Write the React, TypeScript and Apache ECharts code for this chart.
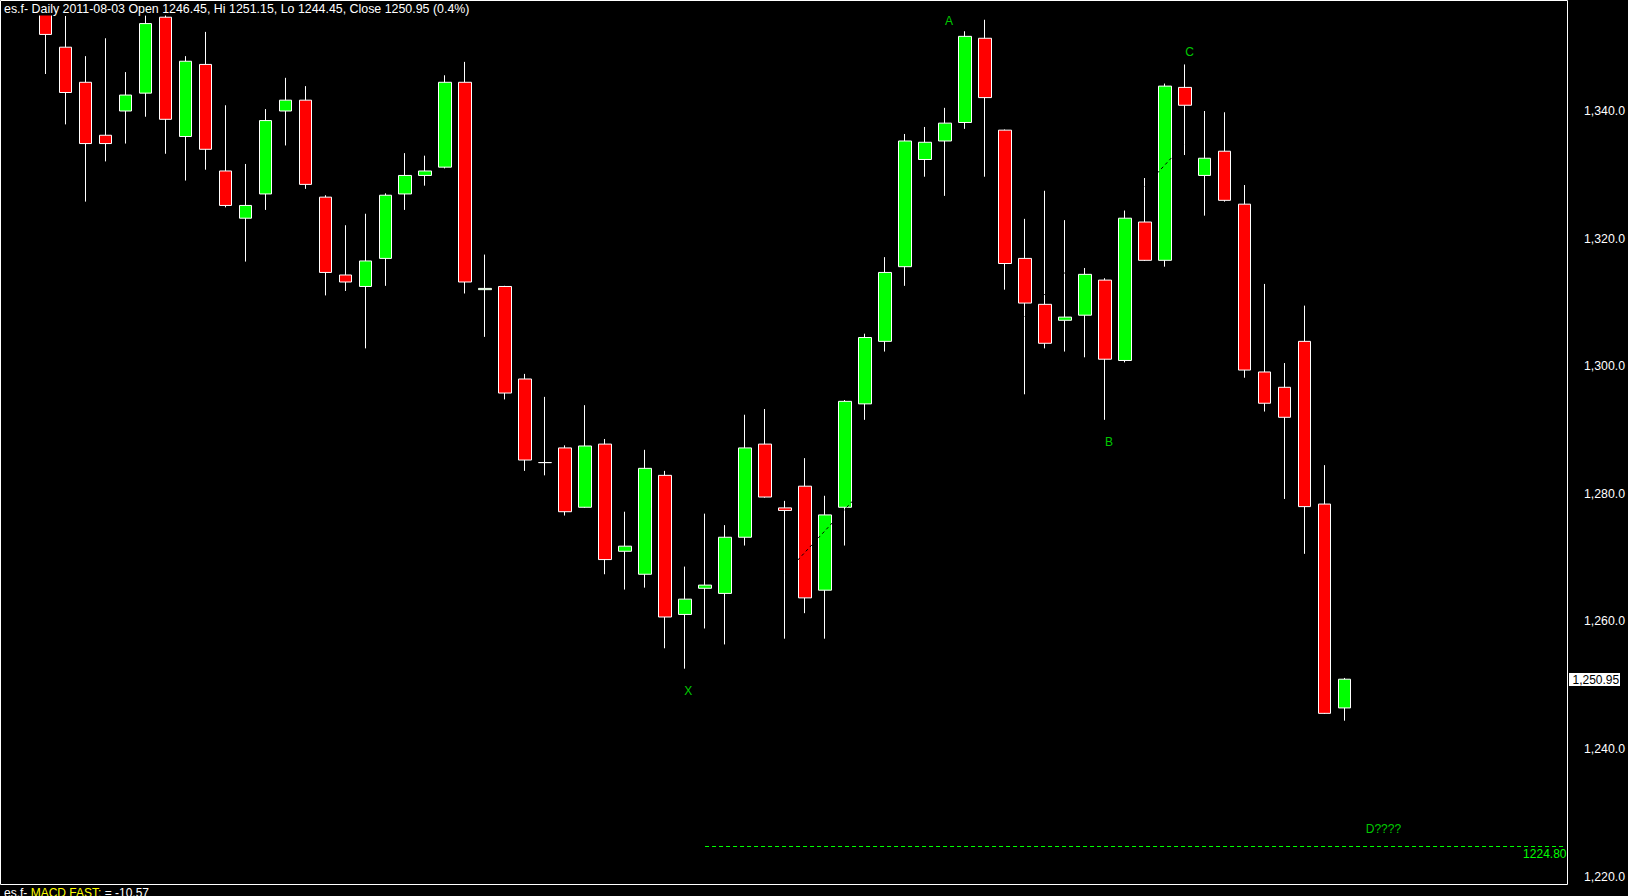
import React, { useEffect, useRef } from 'react';
import * as echarts from 'echarts';

// ---------- data ----------
const dates = [
  '2011-05-02','2011-05-03','2011-05-04','2011-05-05','2011-05-06','2011-05-09','2011-05-10','2011-05-11','2011-05-12','2011-05-13',
  '2011-05-16','2011-05-17','2011-05-18','2011-05-19','2011-05-20','2011-05-23','2011-05-24','2011-05-25','2011-05-26','2011-05-27',
  '2011-05-31','2011-06-01','2011-06-02','2011-06-03','2011-06-06','2011-06-07','2011-06-08','2011-06-09','2011-06-10','2011-06-13',
  '2011-06-14','2011-06-15','2011-06-16','2011-06-17','2011-06-20','2011-06-21','2011-06-22','2011-06-23','2011-06-24','2011-06-27',
  '2011-06-28','2011-06-29','2011-06-30','2011-07-01','2011-07-05','2011-07-06','2011-07-07','2011-07-08','2011-07-11','2011-07-12',
  '2011-07-13','2011-07-14','2011-07-15','2011-07-18','2011-07-19','2011-07-20','2011-07-21','2011-07-22','2011-07-25','2011-07-26',
  '2011-07-27','2011-07-28','2011-07-29','2011-08-01','2011-08-02','2011-08-03',
];
const opens = [
  1356.1, 1350.0, 1344.5, 1336.2, 1340.0, 1342.8, 1354.7, 1336.0, 1347.3, 1330.6,
  1323.2, 1327.0, 1340.0, 1341.7, 1326.5, 1314.3, 1312.5, 1316.9, 1327.0, 1329.9,
  1331.2, 1344.5, 1312.0, 1312.5, 1298.0, 1284.9, 1287.2, 1277.9, 1287.8, 1271.0,
  1267.4, 1282.9, 1261.1, 1265.2, 1264.4, 1273.2, 1287.8, 1277.8, 1281.2, 1264.9,
  1277.9, 1294.1, 1303.9, 1315.6, 1332.4, 1335.3, 1338.2, 1351.4, 1337.0, 1316.9,
  1309.7, 1307.2, 1308.0, 1313.5, 1300.9, 1322.6, 1316.6, 1343.7, 1329.9, 1333.7,
  1325.4, 1299.1, 1296.7, 1303.9, 1278.4, 1246.45,
];
const closes = [
  1352.0, 1342.9, 1334.9, 1334.9, 1342.5, 1353.7, 1338.7, 1347.8, 1334.0, 1325.2,
  1325.2, 1338.5, 1341.7, 1328.5, 1314.7, 1313.2, 1316.5, 1326.8, 1329.9, 1330.6,
  1344.5, 1313.2, 1312.2, 1295.8, 1285.3, 1284.9, 1277.2, 1287.5, 1269.7, 1271.8,
  1284.0, 1260.7, 1263.5, 1265.7, 1273.2, 1287.2, 1279.5, 1277.4, 1263.7, 1276.7,
  1294.5, 1304.5, 1314.7, 1335.3, 1335.1, 1338.1, 1351.7, 1342.1, 1316.1, 1309.9,
  1303.6, 1307.7, 1314.4, 1301.1, 1323.2, 1316.6, 1343.9, 1340.9, 1332.6, 1326.0,
  1299.4, 1294.2, 1292.0, 1278.0, 1245.6, 1250.95,
];
const lows = [
  1345.8, 1337.9, 1325.8, 1332.1, 1334.9, 1339.1, 1333.3, 1329.1, 1330.8, 1324.9,
  1316.4, 1324.5, 1334.6, 1327.8, 1311.1, 1311.8, 1302.8, 1312.6, 1324.5, 1328.3,
  1331.0, 1311.4, 1304.6, 1294.8, 1283.6, 1282.9, 1276.6, 1277.8, 1267.4, 1265.0,
  1265.3, 1255.8, 1252.6, 1258.9, 1256.4, 1271.9, 1279.4, 1257.3, 1261.3, 1257.3,
  1271.9, 1291.6, 1302.3, 1312.6, 1329.7, 1326.7, 1337.2, 1329.7, 1312.0, 1295.6,
  1302.8, 1302.3, 1301.4, 1291.6, 1300.6, 1316.5, 1315.6, 1333.1, 1323.6, 1325.8,
  1298.2, 1292.9, 1279.2, 1270.6, 1245.5, 1244.45,
];
const highs = [
  1357.0, 1354.9, 1348.6, 1351.4, 1346.1, 1355.0, 1355.3, 1348.6, 1352.4, 1340.9,
  1331.7, 1340.3, 1345.2, 1343.9, 1326.8, 1322.1, 1323.9, 1327.1, 1333.4, 1333.0,
  1345.6, 1347.7, 1317.5, 1312.6, 1298.8, 1295.2, 1287.6, 1293.9, 1288.6, 1277.2,
  1286.9, 1283.6, 1268.6, 1276.9, 1275.1, 1292.4, 1293.3, 1278.9, 1285.6, 1279.7,
  1294.7, 1305.1, 1317.1, 1336.4, 1337.5, 1340.5, 1352.5, 1354.3, 1337.1, 1323.1,
  1327.5, 1322.9, 1315.4, 1313.8, 1324.4, 1329.5, 1344.3, 1347.3, 1340.0, 1339.8,
  1328.4, 1312.9, 1300.5, 1309.5, 1284.5, 1251.15,
];

// wave labels: candle index and price level
const waveNames = ['A', 'B', 'C', 'X', 'D????'];
const waveIndex = [45, 53, 57, 32, 67];
const waveLevel = [1354.1, 1288.1, 1349.2, 1249.1, 1227.5];

const targetLevel = 1224.8;
const targetStartIndex = 33;
// hand-drawn trend line (candle index, price)
const trendIndex = [36.2, 56.5];
const trendLevel = [1264.1, 1334.9];

const macdFast = -10.57;

const Y_MIN = 1220;
const Y_MAX = 1357.24;
const Y_INTERVAL = 20;
const PAD_BEFORE = 1;
const PAD_AFTER = 11;

// ---------- styles ----------
const FONT = '"Liberation Sans", Arial, sans-serif';
const GREEN = '#00ff00';
const RED = '#ff0000';
const waveDx = [4.2, 4.2, 4.8, 3.2, -1.2];

const fmtAxis = (v: number) =>
  v.toLocaleString('en-US', { minimumFractionDigits: 1, maximumFractionDigits: 1 });
const fmtPrice = (v: number) =>
  v.toLocaleString('en-US', { minimumFractionDigits: 2, maximumFractionDigits: 2 });

export default function App() {
  const ref = useRef<HTMLDivElement>(null);

  useEffect(() => {
    if (!ref.current) return;
    const chart = echarts.init(ref.current, undefined, { renderer: 'svg' });

    const cats = [
      ...Array.from({ length: PAD_BEFORE }, (_, i) => `pre${i}`),
      ...dates,
      ...Array.from({ length: PAD_AFTER }, (_, i) => `post${i}`),
    ];
    const candleData: any[] = [
      ...Array.from({ length: PAD_BEFORE }, () => '-'),
      ...dates.map((_, i) => [opens[i], closes[i], lows[i], highs[i]]),
      ...Array.from({ length: PAD_AFTER }, () => '-'),
    ];

    const last = dates.length - 1;
    const pct = ((closes[last] - closes[last - 1]) / closes[last - 1]) * 100;
    const titleText = `es.f- Daily ${dates[last]} Open ${opens[last].toFixed(2)}, Hi ${highs[last].toFixed(2)}, Lo ${lows[last].toFixed(2)}, Close ${closes[last].toFixed(2)} (${pct.toFixed(1)}%)`;

    const gridLeft = 15.5;
    const gridWidth = 20 * cats.length;
    const gridRight = gridLeft + gridWidth;

    chart.setOption({
      animation: false,
      backgroundColor: '#000',
      grid: { left: gridLeft, top: 1, width: gridWidth, height: 875.7 },
      xAxis: {
        type: 'category',
        data: cats,
        boundaryGap: true,
        axisLine: { show: false },
        axisTick: { show: false },
        axisLabel: { show: false },
        splitLine: { show: false },
      },
      yAxis: {
        type: 'value',
        position: 'right',
        min: Y_MIN,
        max: Y_MAX,
        interval: Y_INTERVAL,
        axisLine: { show: false },
        axisTick: { show: false },
        splitLine: { show: false },
        axisLabel: {
          color: '#ffffff',
          fontSize: 12.3,
          fontFamily: FONT,
          align: 'right',
          margin: 1626 - gridRight,
          showMaxLabel: false,
          formatter: fmtAxis,
        },
      },
      series: [
        {
          type: 'candlestick',
          data: candleData,
          barWidth: 13,
          clip: false,
          itemStyle: {
            color: GREEN,
            color0: RED,
            borderColor: '#ffffff',
            borderColor0: '#ffffff',
            borderColorDoji: '#ffffff',
            borderWidth: 1,
          },
          markLine: {
            silent: true,
            symbol: ['none', 'none'],
            animation: false,
            data: [
              [
                {
                  coord: [targetStartIndex + PAD_BEFORE, targetLevel],
                  lineStyle: { color: GREEN, type: [4, 3], width: 1 },
                  label: {
                    show: true,
                    position: 'insideEndBottom',
                    formatter: targetLevel.toFixed(2),
                    color: GREEN,
                    fontSize: 12,
                    fontFamily: FONT,
                    distance: 2,
                    offset: [4, 0],
                  },
                },
                { coord: [cats.length - 1, targetLevel] },
              ],
              [
                {
                  coord: [trendIndex[0] + PAD_BEFORE, trendLevel[0]],
                  lineStyle: { color: '#000000', type: [3, 3], width: 1 },
                  label: { show: false },
                },
                { coord: [trendIndex[1] + PAD_BEFORE, trendLevel[1]] },
              ],
            ],
          },
        },
        {
          type: 'scatter',
          silent: true,
          symbolSize: 1,
          itemStyle: { color: 'rgba(0,0,0,0)' },
          label: {
            show: true,
            position: 'inside',
            color: GREEN,
            fontSize: 12,
            fontFamily: FONT,
          },
          data: waveNames.map((n, i) => ({
            value: [waveIndex[i] + PAD_BEFORE, waveLevel[i]],
            label: { formatter: n, offset: [waveDx[i], 0] },
          })),
        },
      ],
    });

    const yPx = chart.convertToPixel({ yAxisIndex: 0 }, closes[last]) as number;

    chart.setOption({
      graphic: [
        {
          type: 'rect',
          z: 99,
          shape: { x: 1, y: 1, width: 470, height: 14.5 },
          style: { fill: '#000' },
        },
        {
          type: 'rect',
          z: 100,
          shape: { x: 0.5, y: 0.5, width: 1567, height: 884 },
          style: { fill: 'none', stroke: '#ffffff', lineWidth: 1 },
        },
        {
          type: 'text',
          z: 101,
          x: 4,
          y: 9,
          style: {
            text: titleText,
            fill: '#ffffff',
            fontSize: 12.4,
            fontFamily: FONT,
            align: 'left',
            verticalAlign: 'middle',
          },
        },
        {
          type: 'rect',
          z: 100,
          shape: { x: 1569, y: Math.round(yPx) - 6, width: 51, height: 13 },
          style: { fill: '#ffffff' },
        },
        {
          type: 'text',
          z: 101,
          x: 1572.5,
          y: yPx + 0.5,
          style: {
            text: fmtPrice(closes[last]),
            fill: '#000000',
            fontSize: 12,
            fontFamily: FONT,
            align: 'left',
            verticalAlign: 'middle',
          },
        },
        {
          type: 'text',
          z: 101,
          x: 4,
          y: 893,
          style: {
            text: `{w|es.f- }{y|MACD FAST:}{w| = ${macdFast.toFixed(2)}}`,
            fontSize: 12,
            fontFamily: FONT,
            align: 'left',
            verticalAlign: 'middle',
            rich: {
              w: { fill: '#ffffff', fontSize: 12, fontFamily: FONT },
              y: { fill: '#ffff00', fontSize: 12, fontFamily: FONT },
            },
          },
        },
      ],
    });

    return () => chart.dispose();
  }, []);

  return (
    <div
      ref={ref}
      style={{ position: 'fixed', left: 0, top: 0, width: 1628, height: 896, background: '#000' }}
    />
  );
}
